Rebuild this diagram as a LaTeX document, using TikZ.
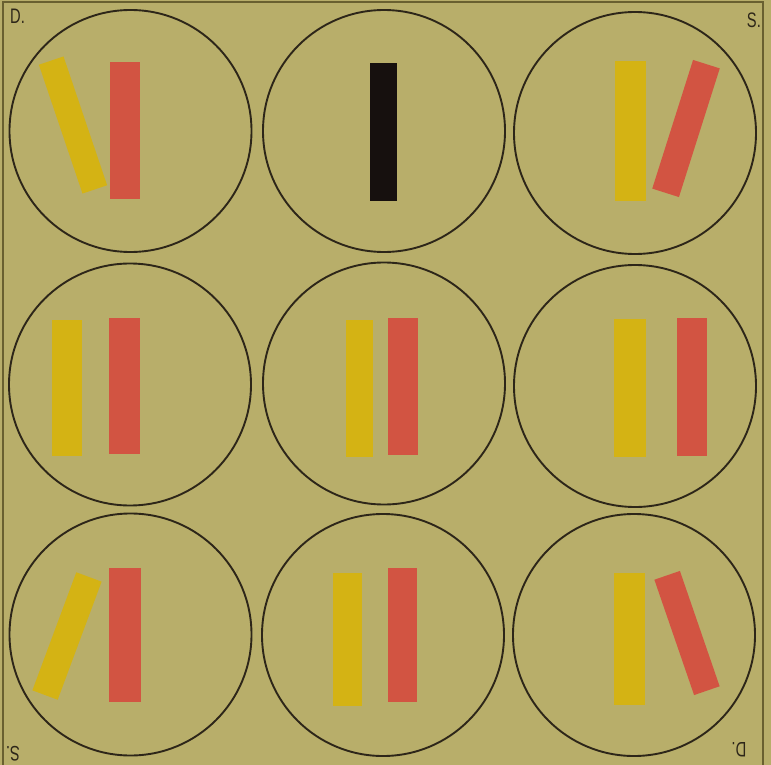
\documentclass[tikz,border=0pt]{standalone}
\usepackage{fontspec}
\setmainfont{Liberation Sans}
\definecolor{paper}{RGB}{184,174,106}
\definecolor{edge}{RGB}{105,96,48}
\definecolor{ybar}{RGB}{212,179,20}
\definecolor{rbar}{RGB}{210,84,66}
\definecolor{kbar}{RGB}{22,16,14}
\definecolor{ink}{RGB}{45,38,25}
\tikzset{
  disc/.style={circle,draw=ink,line width=1.9pt,minimum size=242pt,inner sep=0pt},
  bar/.style={rectangle,inner sep=0pt,minimum width=29pt,minimum height=136pt},
  ybarstyle/.style={bar,fill=ybar},
  rbarstyle/.style={bar,fill=rbar},
  kbarstyle/.style={bar,fill=kbar,minimum width=27pt,minimum height=138pt},
  lbl/.style={inner sep=0pt,text=ink,font=\fontsize{21}{21}\selectfont,xscale=0.7}
}
\begin{document}
\begin{tikzpicture}[x=1pt,y=-1pt]
\fill[paper] (0,0) rectangle (771,765);
\useasboundingbox (0,0) rectangle (771,765);
\draw[edge,line width=2pt] (2.5,765) -- (2.5,2.5) -- (763,2.5) -- (763,765);
% row 1
\node[disc] (c11) at (130.5,131) {};
\node[disc] (c12) at (384,131) {};
\node[disc] (c13) at (635,133) {};
% row 2
\node[disc] (c21) at (130,384.5) {};
\node[disc] (c22) at (384,383.5) {};
\node[disc] (c23) at (635,386) {};
% row 3
\node[disc] (c31) at (130.5,634.5) {};
\node[disc] (c32) at (383,635) {};
\node[disc] (c33) at (634,635) {};
% bars row 1
\node[ybarstyle,minimum width=26pt,rotate=18.7] (y11) at (73,125) {};
\node[rbarstyle,minimum width=30pt,minimum height=137pt] (r11) at (125,130.5) {};
\node[kbarstyle] (k12) at (383.5,132) {};
\node[ybarstyle,minimum width=31pt,minimum height=140pt] (y13) at (630.5,131) {};
\node[rbarstyle,minimum width=28pt,minimum height=135pt,rotate=-17.6] (r13) at (686,128.5) {};
% bars row 2
\node[ybarstyle,minimum width=30pt] (y21) at (67,388) {};
\node[rbarstyle,minimum width=31pt] (r21) at (124.5,386) {};
\node[ybarstyle,minimum width=27pt,minimum height=137pt] (y22) at (359.5,388.5) {};
\node[rbarstyle,minimum width=30pt,minimum height=137pt] (r22) at (403,386.5) {};
\node[ybarstyle,minimum width=32pt,minimum height=138pt] (y23) at (630,388) {};
\node[rbarstyle,minimum width=30pt,minimum height=138pt] (r23) at (692,387) {};
% bars row 3
\node[ybarstyle,minimum width=27pt,minimum height=126pt,rotate=-20.4] (y31) at (67,636) {};
\node[rbarstyle,minimum width=32pt,minimum height=134pt] (r31) at (125,635) {};
\node[ybarstyle,minimum width=29pt,minimum height=133pt] (y32) at (347.5,639.5) {};
\node[rbarstyle,minimum width=29pt,minimum height=134pt] (r32) at (402.5,635) {};
\node[ybarstyle,minimum width=31pt,minimum height=132pt] (y33) at (629.5,639) {};
\node[rbarstyle,minimum width=27pt,minimum height=122pt,rotate=19] (r33) at (687,633) {};
% corner labels
\node[lbl,anchor=north west] (ld1) at (10,9) {D.};
\node[lbl,anchor=north east] (ls1) at (761,13) {S.};
\node[lbl,rotate=180] (ls2) at (13,754) {S.};
\node[lbl,rotate=180] (ld2) at (739,750) {D.};
\end{tikzpicture}
\end{document}
